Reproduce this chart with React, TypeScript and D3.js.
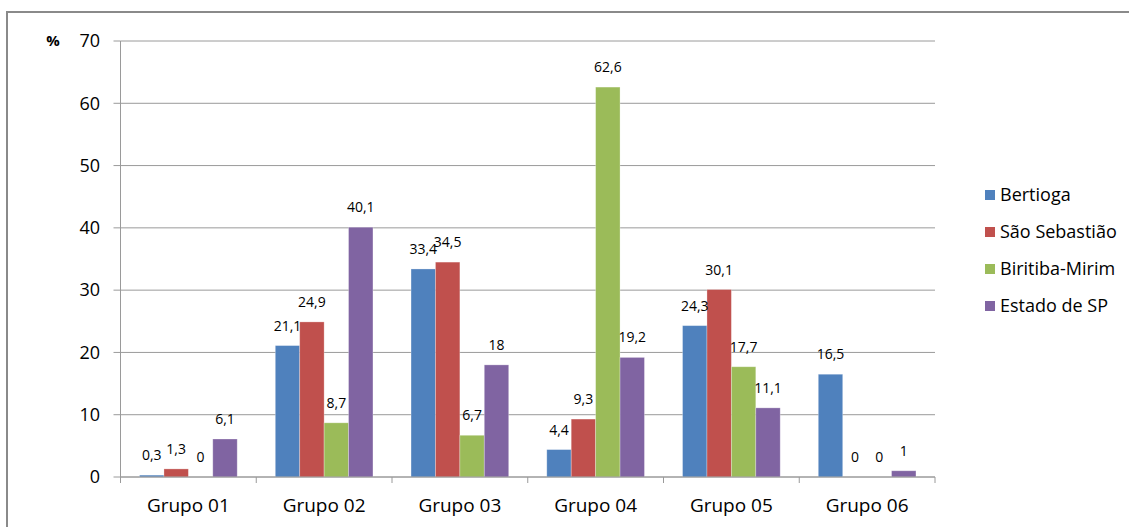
import * as d3 from 'd3';

// chart values
const groups = ['Grupo 01', 'Grupo 02', 'Grupo 03', 'Grupo 04', 'Grupo 05', 'Grupo 06'];
const seriesNames = ['Bertioga', 'São Sebastião', 'Biritiba-Mirim', 'Estado de SP'];
const bertioga = [0.3, 21.1, 33.4, 4.4, 24.3, 16.5];
const saoSebastiao = [1.3, 24.9, 34.5, 9.3, 30.1, 0];
const biritibaMirim = [0, 8.7, 6.7, 62.6, 17.7, 0];
const estadoSP = [6.1, 40.1, 18, 19.2, 11.1, 1];
const yTicks = [0, 10, 20, 30, 40, 50, 60, 70];

const seriesValues = [bertioga, saoSebastiao, biritibaMirim, estadoSP];
const colors = ['#4F81BD', '#C0504D', '#9BBB59', '#8064A2'];

const W = 1129;
const H = 527;
const plot = { left: 120.5, right: 935, top: 41, bottom: 477 };
const font = '"Open Sans", "DejaVu Sans", sans-serif';

// comma as decimal separator, like the original
const fmt = (v: number) => String(v).replace('.', ',');

export default function App() {
	const x = d3.scaleBand<string>().domain(groups).range([plot.left, plot.right]).paddingInner(0).paddingOuter(0);
	const y = d3.scaleLinear().domain([0, 70]).range([plot.bottom, plot.top]);

	// 4 bars per group with ~19px free on both sides of the band
	const inner = d3
		.scaleBand<number>()
		.domain(d3.range(seriesNames.length))
		.range([0, x.bandwidth()])
		.paddingOuter(0.78)
		.paddingInner(0);

	const boundaries = groups.map((g) => x(g) as number).concat([plot.right]);

	return (
		<svg width={W} height={H} style={{ position: 'absolute', left: 0, top: 0, background: '#fff' }}>
			{/* outer frame */}
			<rect x={7} y={12} width={W} height={H} fill="none" stroke="#8a8a8a" strokeWidth={2} />

			{/* gridlines + y ticks */}
			{yTicks.map((t) => (
				<g key={t}>
					<line x1={plot.left} x2={plot.right} y1={y(t)} y2={y(t)} stroke="#9a9a9a" strokeWidth={1} />
					<line x1={plot.left - 7} x2={plot.left} y1={y(t)} y2={y(t)} stroke="#9a9a9a" strokeWidth={1} />
					<text x={100} y={y(t)} dy="0.35em" textAnchor="end" fontFamily={font} fontSize={18} fill="#000">
						{t}
					</text>
				</g>
			))}
			<text x={53} y={y(70)} dy="0.35em" textAnchor="middle" fontFamily={font} fontSize={15} fontWeight="bold" fill="#000">
				%
			</text>

			{/* y axis line */}
			<line x1={plot.left} x2={plot.left} y1={plot.top} y2={plot.bottom} stroke="#9a9a9a" strokeWidth={1} />

			{/* bars */}
			{seriesValues.map((vals, si) =>
				vals.map((v, gi) => {
					const bx = (x(groups[gi]) as number) + (inner(si) as number);
					return (
						<rect
							key={`${si}-${gi}`}
							x={bx}
							y={y(v)}
							width={inner.bandwidth()}
							height={plot.bottom - y(v)}
							fill={colors[si]}
							stroke="rgba(255,255,255,0.35)"
							strokeWidth={0.8}
						/>
					);
				})
			)}

			{/* x axis + ticks */}
			<line x1={plot.left} x2={plot.right} y1={plot.bottom} y2={plot.bottom} stroke="#9a9a9a" strokeWidth={1} />
			{boundaries.map((b, i) => (
				<line key={i} x1={b} x2={b} y1={plot.bottom} y2={plot.bottom + 6} stroke="#9a9a9a" strokeWidth={1} />
			))}
			{groups.map((g) => (
				<text
					key={g}
					x={(x(g) as number) + x.bandwidth() / 2}
					y={505}
					dy="0.35em"
					textAnchor="middle"
					fontFamily={font}
					fontSize={19}
					fill="#000"
				>
					{g}
				</text>
			))}

			{/* data labels */}
			{seriesValues.map((vals, si) =>
				vals.map((v, gi) => {
					const cx = (x(groups[gi]) as number) + (inner(si) as number) + inner.bandwidth() / 2;
					return (
						<text
							key={`l${si}-${gi}`}
							x={cx}
							y={y(v) - 15}
							textAnchor="middle"
							fontFamily={font}
							fontSize={14}
							fill="#000"
						>
							{fmt(v)}
						</text>
					);
				})
			)}

			{/* legend */}
			{seriesNames.map((n, i) => {
				const ly = 195 + i * 37;
				return (
					<g key={n}>
						<rect x={985} y={ly - 5} width={10} height={10} fill={colors[i]} />
						<text x={1000} y={ly} dy="0.35em" fontFamily={font} fontSize={18} fill="#000">
							{n}
						</text>
					</g>
				);
			})}
		</svg>
	);
}
